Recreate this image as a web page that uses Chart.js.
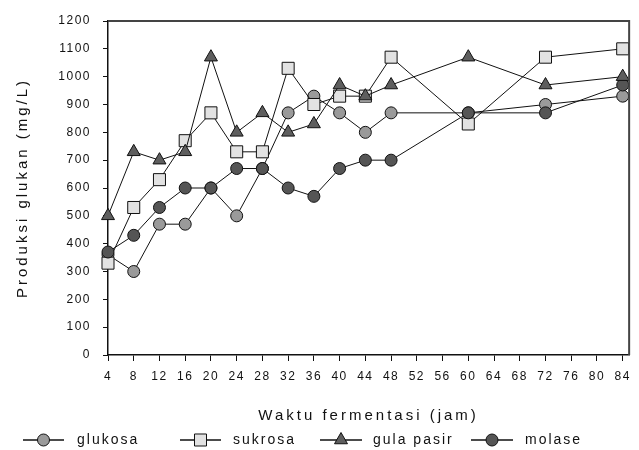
<!DOCTYPE html>
<html>
<head>
<meta charset="utf-8">
<script src="https://cdn.jsdelivr.net/npm/chart.js@4.4.1/dist/chart.umd.min.js"></script>
<style>
  html, body { margin: 0; padding: 0; background: #fff; }
  #wrap { width: 639px; height: 450px; position: relative; }
</style>
</head>
<body>
<div id="wrap"><canvas id="c" width="639" height="450"></canvas></div>
<script>
// Fermentation time (jam) of each measurement
const hours = [4, 8, 12, 16, 20, 24, 28, 32, 36, 40, 44, 48, 60, 72, 84];
// Glucan production (mg/L)
const glukosa   = [360, 300, 470, 470, 600, 500, 670, 870, 930, 870, 800, 870, 870, 900, 930];
const sukrosa   = [330, 530, 630, 770, 870, 730, 730, 1030, 900, 930, 930, 1070, 830, 1070, 1100];
const gulaPasir = [500, 730, 700, 730, 1070, 800, 870, 800, 830, 970, 930, 970, 1070, 970, 1000];
const molase    = [370, 430, 530, 600, 600, 670, 670, 600, 570, 670, 700, 700, 870, 870, 970];
// Axis tick labels
const xTicks = [4, 8, 12, 16, 20, 24, 28, 32, 36, 40, 44, 48, 52, 56, 60, 64, 68, 72, 76, 80, 84];
const yTicks = [0, 100, 200, 300, 400, 500, 600, 700, 800, 900, 1000, 1100, 1200];
const seriesNames = ['glukosa', 'sukrosa', 'gula pasir', 'molase'];

const FONT = '"Liberation Sans", Arial, sans-serif';
const toPts = arr => arr.map((v, i) => ({ x: hours[i], y: v }));

const styles = [
  { fill: '#9a9a9a', shape: 'circle', r: 6 },
  { fill: '#e2e2e2', shape: 'rect', r: 8.5 },
  { fill: '#5e5e5e', shape: 'triangle', r: 7.5 },
  { fill: '#555555', shape: 'circle', r: 6 }
];
const seriesData = [glukosa, sukrosa, gulaPasir, molase];

const datasets = seriesData.map((d, i) => ({
  label: seriesNames[i],
  data: toPts(d),
  borderColor: '#111',
  borderWidth: 1,
  backgroundColor: styles[i].fill,
  pointBackgroundColor: styles[i].fill,
  pointBorderColor: '#111',
  pointBorderWidth: 1,
  pointStyle: styles[i].shape,
  pointRadius: styles[i].r,
  tension: 0,
  clip: false,
  order: [3, 2, 0, 1][i]
}));

const TICK_SPACING = '1.5px';
const TITLE_SPACING = '3px';

const spacingPlugin = {
  id: 'spacing',
  beforeInit(chart) { chart.ctx.letterSpacing = TICK_SPACING; },
  beforeUpdate(chart) { chart.ctx.letterSpacing = TICK_SPACING; },
  afterUpdate(chart) {
    Object.values(chart.scales).forEach(s => {
      if (s._wrappedTitle) return;
      const orig = s.drawTitle;
      s.drawTitle = function () {
        const ctx = this.ctx;
        const prev = ctx.letterSpacing;
        ctx.letterSpacing = TITLE_SPACING;
        orig.call(this);
        ctx.letterSpacing = prev;
      };
      s._wrappedTitle = true;
    });
  },
  beforeDraw(chart) { chart.ctx.letterSpacing = TICK_SPACING; }
};

const framePlugin = {
  id: 'frame',
  afterDatasetsDraw(chart) {
    const { ctx, chartArea: a } = chart;
    ctx.save();
    ctx.strokeStyle = '#444';
    ctx.lineWidth = 2;
    ctx.beginPath();
    ctx.moveTo(a.left, a.top);
    ctx.lineTo(a.right, a.top);
    ctx.lineTo(a.right, a.bottom);
    ctx.stroke();
    ctx.restore();
  }
};

const legendPos = [
  { line: [23, 64], text: 77 },
  { line: [180, 221], text: 233 },
  { line: [320, 362], text: 373 },
  { line: [471, 513], text: 525 }
];
const legendPlugin = {
  id: 'customLegend',
  afterDraw(chart) {
    const { ctx } = chart;
    const y = 440;
    ctx.save();
    ctx.letterSpacing = '2px';
    chart.data.datasets.forEach((ds, i) => {
      const p = legendPos[i];
      ctx.strokeStyle = '#111';
      ctx.lineWidth = 1.5;
      ctx.beginPath();
      ctx.moveTo(p.line[0], y);
      ctx.lineTo(p.line[1], y);
      ctx.stroke();
      ctx.fillStyle = ds.pointBackgroundColor;
      ctx.strokeStyle = '#111';
      ctx.lineWidth = 1;
      Chart.helpers.drawPoint(ctx, { pointStyle: ds.pointStyle, radius: ds.pointRadius, rotation: 0, borderWidth: 1 },
        (p.line[0] + p.line[1]) / 2, y);
      ctx.fillStyle = '#111';
      ctx.font = '14px ' + FONT;
      ctx.textBaseline = 'middle';
      ctx.fillText(ds.label, p.text, y);
    });
    ctx.restore();
  }
};

new Chart(document.getElementById('c'), {
  type: 'line',
  data: { datasets },
  plugins: [spacingPlugin, framePlugin, legendPlugin],
  options: {
    responsive: false,
    animation: false,
    devicePixelRatio: 1,
    layout: { padding: { left: 0, top: 21, right: 4, bottom: 0 } },
    plugins: { legend: { display: false }, tooltip: { enabled: false } },
    scales: {
      x: {
        type: 'linear',
        min: 4,
        max: 85,
        afterBuildTicks: s => { s.ticks = xTicks.map(v => ({ value: v })); },
        afterFit: s => { s.height = 95; },
        grid: { drawOnChartArea: false, drawTicks: true, tickLength: 6, color: '#111' },
        border: { display: true, color: '#111', width: 1.5 },
        ticks: { color: '#111', font: { family: FONT, size: 12 }, padding: 8, maxRotation: 0, autoSkip: false,
                 callback: v => String(v) },
        title: { display: true, text: 'Waktu fermentasi (jam)', color: '#111', font: { family: FONT, size: 15 }, padding: { bottom: 25 } }
      },
      y: {
        min: 0,
        max: 1200,
        afterBuildTicks: s => { s.ticks = yTicks.map(v => ({ value: v })); },
        afterFit: s => { s.width = 108; },
        grid: { drawOnChartArea: false, drawTicks: true, tickLength: 5, color: '#111' },
        border: { display: true, color: '#111', width: 1.5 },
        ticks: { color: '#111', font: { family: FONT, size: 12 }, padding: 12, callback: v => String(v) },
        title: { display: true, text: 'Produksi glukan (mg/L)', color: '#111', font: { family: FONT, size: 15 }, padding: { top: 14 } }
      }
    }
  }
});
</script>
</body>
</html>
